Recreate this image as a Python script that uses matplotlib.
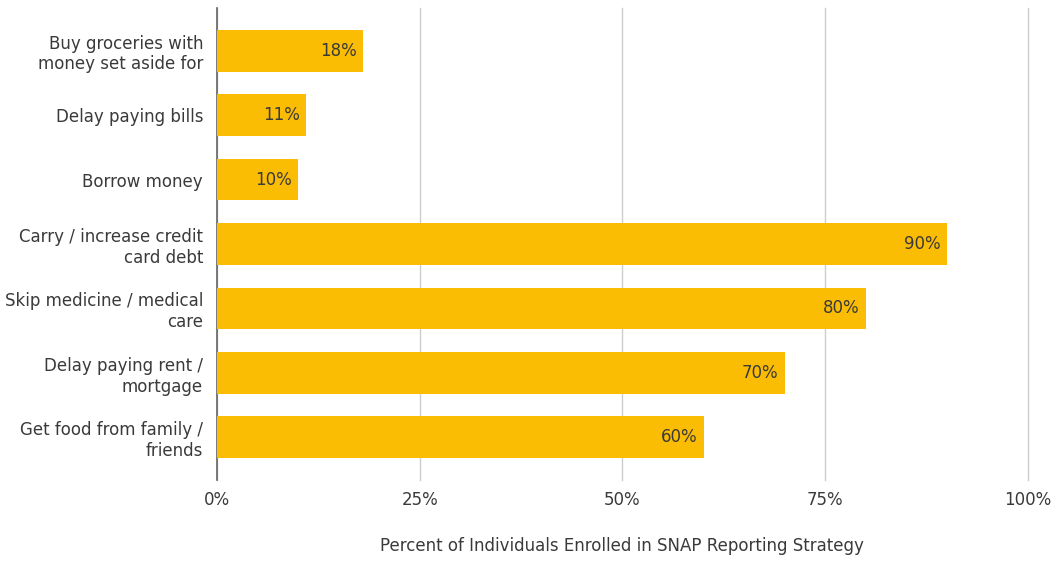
import matplotlib.pyplot as plt
from matplotlib.ticker import PercentFormatter

strategies = [
    "Buy groceries with\nmoney set aside for",
    "Delay paying bills",
    "Borrow money",
    "Carry / increase credit\ncard debt",
    "Skip medicine / medical\ncare",
    "Delay paying rent /\nmortgage",
    "Get food from family /\nfriends",
]
percent = [18, 11, 10, 90, 80, 70, 60]
xticks = [0, 25, 50, 75, 100]

plt.rcParams['font.family'] = 'DejaVu Sans'
fs = 12
txt = '#3a3a3a'
fig = plt.figure(figsize=(10.58, 5.61), dpi=100)
ax = fig.add_axes([0.205, 0.1444, 0.7666, 0.8413])

ypos = list(range(len(strategies)))
bars = ax.barh(ypos, percent, height=0.65, color='#FBBC04', zorder=3)
for b, v in zip(bars, percent):
    ax.text(v - 0.8, b.get_y() + b.get_height() / 2, f"{v}%",
            ha='right', va='center', fontsize=fs, color=txt, zorder=4)

ax.set_ylim(len(strategies) - 0.34, -0.66)
ax.set_xlim(0, 100)
ax.set_yticks(ypos)
ax.set_yticklabels(strategies, fontsize=fs, color=txt, linespacing=1.2)
ax.set_xticks(xticks)
ax.xaxis.set_major_formatter(PercentFormatter(decimals=0))
ax.tick_params(axis='y', length=0, pad=10)
ax.tick_params(axis='x', length=0, pad=8, labelsize=fs, labelcolor=txt)
ax.grid(axis='x', color='#cccccc', linewidth=1, zorder=0)
for gl in ax.get_xgridlines():
    gl.set_clip_on(False)

for s in ['top', 'right', 'bottom']:
    ax.spines[s].set_visible(False)
ax.spines['left'].set_color('#666666')
ax.spines['left'].set_linewidth(1.2)

ax.set_xlabel("Percent of Individuals Enrolled in SNAP Reporting Strategy",
              fontsize=fs, color=txt, labelpad=20)

fig.savefig('out.png', dpi=100)
